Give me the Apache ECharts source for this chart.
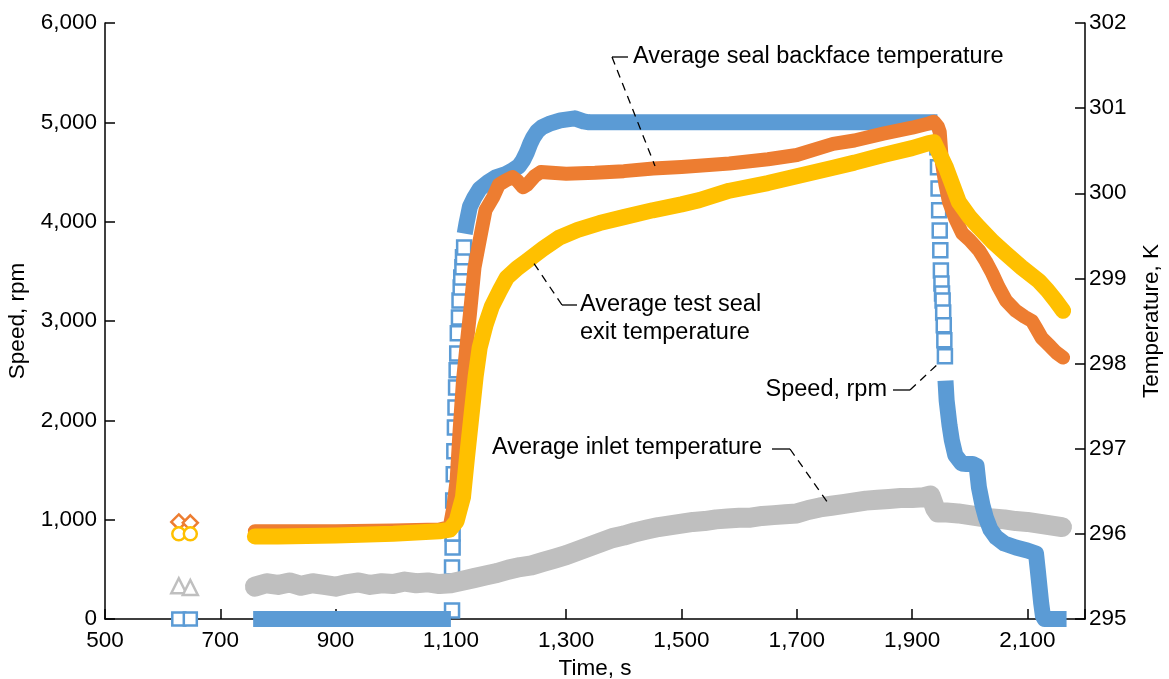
<!DOCTYPE html>
<html>
<head>
<meta charset="utf-8">
<script src="https://cdn.jsdelivr.net/npm/echarts@6/dist/echarts.min.js"></script>
<style>
  html, body { margin: 0; padding: 0; background: #fff; }
  #chart { width: 1169px; height: 679px; }
</style>
</head>
<body>
<div id="chart"></div>
<script>
// ---- data ----
// speed, rpm (thick band part; null = break where single markers are drawn)
const speedTime = [757, 1100, 1101, 1124, 1127, 1133, 1141, 1150, 1165, 1178, 1195, 1207, 1218, 1225, 1232, 1238, 1243, 1250, 1258, 1273, 1290, 1315, 1330, 1340, 1944, 1950, 1958, 1960, 1965, 1969, 1975, 1986, 1995, 2005, 2012, 2016, 2022, 2028, 2036, 2046, 2060, 2080, 2100, 2115, 2118, 2121, 2124, 2127, 2130, 2168];
const speedRpm = [0, 0, null, 3880, 3980, 4150, 4245, 4330, 4400, 4447, 4480, 4516, 4560, 4617, 4700, 4790, 4849, 4910, 4950, 4990, 5020, 5040, 5010, 5000, 5000, null, 2400, 2200, 1950, 1800, 1650, 1566, 1560, 1560, 1540, 1325, 1150, 1022, 900, 821, 760, 720, 690, 660, 500, 330, 160, 30, 0, 0];
// speed samples on the fast ramps (individual squares)
const rampTime = [1102, 1102, 1103, 1103, 1104, 1105, 1106, 1107, 1108, 1109, 1110, 1111, 1112, 1114, 1115, 1117, 1118, 1120, 1121, 1123, 1944, 1945, 1946, 1947, 1948, 1949, 1950, 1951, 1952, 1953, 1954, 1955, 1956, 1957];
const rampRpm = [86, 519, 720, 861, 1193, 1458, 1690, 1928, 2130, 2331, 2503, 2674, 2876, 3036, 3207, 3338, 3439, 3540, 3641, 3741, 4750, 4547, 4335, 4114, 3912, 3711, 3509, 3378, 3277, 3207, 3086, 2956, 2805, 2644];

// average seal backface temperature, K
const backfaceTime = [760, 800, 900, 1000, 1080, 1098, 1104, 1110, 1115, 1121, 1127, 1133, 1141, 1150, 1160, 1173, 1183, 1195, 1207, 1215, 1225, 1232, 1245, 1256, 1275, 1300, 1350, 1400, 1451, 1500, 1583, 1650, 1700, 1763, 1800, 1850, 1900, 1929, 1938, 1945, 1948, 1952, 1958, 1964, 1975, 1987, 2000, 2016, 2028, 2039, 2050, 2063, 2080, 2095, 2108, 2115, 2125, 2140, 2150, 2162];
const backfaceK = [296.03, 296.03, 296.03, 296.04, 296.05, 296.08, 296.3, 296.63, 297.2, 297.8, 298.2, 298.58, 299.13, 299.45, 299.8, 299.95, 300.1, 300.15, 300.19, 300.15, 300.07, 300.1, 300.2, 300.25, 300.24, 300.23, 300.24, 300.26, 300.29, 300.31, 300.35, 300.4, 300.45, 300.58, 300.62, 300.7, 300.77, 300.82, 300.84, 300.78, 300.72, 300.35, 300.1, 299.9, 299.7, 299.53, 299.45, 299.33, 299.2, 299.06, 298.9, 298.74, 298.62, 298.55, 298.5, 298.42, 298.3, 298.2, 298.13, 298.07];

// average test seal exit temperature, K
const exitTime = [760, 800, 900, 1000, 1080, 1098, 1110, 1115, 1121, 1128, 1136, 1143, 1150, 1160, 1171, 1185, 1197, 1215, 1231, 1260, 1288, 1320, 1358, 1400, 1450, 1500, 1531, 1583, 1650, 1700, 1763, 1800, 1850, 1900, 1929, 1938, 1945, 1952, 1959, 1970, 1981, 2000, 2016, 2040, 2063, 2090, 2120, 2135, 2149, 2162];
const exitK = [295.97, 295.97, 295.98, 296.0, 296.03, 296.05, 296.15, 296.28, 296.43, 296.9, 297.41, 297.85, 298.19, 298.45, 298.67, 298.86, 299.01, 299.12, 299.2, 299.35, 299.48, 299.57, 299.65, 299.72, 299.8, 299.87, 299.92, 300.03, 300.12, 300.2, 300.3, 300.36, 300.45, 300.53, 300.59, 300.6, 300.5, 300.4, 300.3, 300.1, 299.9, 299.72, 299.6, 299.43, 299.29, 299.13, 298.97, 298.86, 298.74, 298.62];

// average inlet temperature, K
const inletTime = [760, 780, 800, 820, 840, 860, 880, 900, 920, 940, 960, 980, 1000, 1020, 1040, 1060, 1080, 1100, 1120, 1140, 1160, 1180, 1200, 1220, 1240, 1260, 1280, 1300, 1320, 1340, 1360, 1380, 1400, 1420, 1440, 1460, 1480, 1500, 1520, 1540, 1560, 1580, 1600, 1620, 1640, 1660, 1680, 1700, 1720, 1740, 1760, 1780, 1800, 1820, 1840, 1860, 1880, 1900, 1920, 1932, 1940, 1945, 1960, 1980, 2000, 2020, 2040, 2060, 2080, 2100, 2120, 2140, 2160];
const inletK = [295.38, 295.42, 295.4, 295.43, 295.39, 295.42, 295.4, 295.38, 295.41, 295.43, 295.4, 295.42, 295.41, 295.44, 295.42, 295.43, 295.41, 295.42, 295.45, 295.48, 295.51, 295.54, 295.58, 295.61, 295.63, 295.67, 295.71, 295.75, 295.8, 295.85, 295.9, 295.95, 295.98, 296.02, 296.05, 296.08, 296.1, 296.12, 296.14, 296.15, 296.17, 296.18, 296.19, 296.19, 296.21, 296.22, 296.23, 296.24, 296.28, 296.31, 296.33, 296.35, 296.37, 296.39, 296.4, 296.41, 296.42, 296.42, 296.43, 296.45, 296.3, 296.25, 296.25, 296.24, 296.22, 296.2, 296.18, 296.17, 296.15, 296.14, 296.12, 296.1, 296.08];

// the two early, isolated readings
const earlyTime = [628, 648];
const earlySpeed = [0, 0];
const earlyBackface = [296.14, 296.13];
const earlyExit = [296.0, 296.0];
const earlyInlet = [295.39, 295.37];

// axis ticks
const timeMin = 500, timeMax = 2200, timeStep = 200;
const rpmMin = 0, rpmMax = 6000, rpmStep = 1000;
const kMin = 295, kMax = 302, kStep = 1;

// ---- chart ----
const BLUE = "#5B9BD5";
const ORANGE = "#ED7D31";
const YELLOW = "#FFC000";
const GRAY = "#BFBFBF";
const FONT = '"Liberation Sans", Arial, sans-serif';

const pairs = (xs, ys) => xs.map((x, i) => [x, ys[i] === null ? "-" : ys[i]]);
const comma = (v) => String(v).replace(/\B(?=(\d{3})+(?!\d))/g, ",");

const axisCommon = {
  axisLine: { show: true, lineStyle: { color: "#000", width: 1.5 } },
  axisTick: { show: true, inside: true, length: 10, lineStyle: { color: "#000", width: 1.5 } },
  splitLine: { show: false },
  nameTextStyle: { color: "#000", fontSize: 22.5, fontFamily: FONT },
};
const labelCommon = { color: "#000", fontSize: 22.5, fontFamily: FONT };

const bandLine = (name, xs, ys, color, width, yIdx, cap) => ({
  name: name,
  type: "line",
  yAxisIndex: yIdx,
  data: pairs(xs, ys),
  showSymbol: false,
  symbol: "none",
  clip: false,
  connectNulls: false,
  animation: false,
  lineStyle: { color: color, width: width, cap: cap, join: "round" },
  itemStyle: { color: color },
});

const hollow = (name, symbol, xs, ys, color, size, yIdx) => ({
  name: name,
  type: "scatter",
  yAxisIndex: yIdx,
  data: pairs(xs, ys),
  symbol: symbol,
  symbolSize: size,
  clip: false,
  animation: false,
  itemStyle: { color: "#fff", borderColor: color, borderWidth: 2.5, opacity: 1 },
});

const chart = echarts.init(document.getElementById("chart"), null, { renderer: "canvas" });

const dash = [8, 6];
const leader = (x1, y1, x2, y2, dashed) => ({
  type: "line",
  shape: { x1: x1, y1: y1, x2: x2, y2: y2 },
  style: { stroke: "#000", lineWidth: 1.3, lineDash: dashed ? dash : null },
  z: 100,
});
const note = (x, y, text, align) => ({
  type: "text",
  x: x,
  y: y,
  z: 100,
  style: {
    text: text,
    fill: "#000",
    font: "23.5px " + FONT,
    align: align || "left",
    verticalAlign: "middle",
  },
});

chart.setOption({
  animation: false,
  backgroundColor: "#fff",
  grid: { left: 105, right: 84, top: 23, bottom: 60, outerBoundsMode: "none", containLabel: false },
  xAxis: Object.assign({}, axisCommon, {
    type: "value",
    min: timeMin,
    max: timeMax,
    interval: timeStep,
    name: "Time, s",
    nameLocation: "middle",
    nameGap: 30,
    axisLabel: Object.assign({}, labelCommon, {
      margin: 10,
      formatter: (v) => (v === timeMax ? "" : comma(v)),
    }),
  }),
  yAxis: [
    Object.assign({}, axisCommon, {
      type: "value",
      min: rpmMin,
      max: rpmMax,
      interval: rpmStep,
      name: "Speed, rpm",
      nameLocation: "middle",
      nameGap: 74,
      nameRotate: 90,
      axisLabel: Object.assign({}, labelCommon, { margin: 8, formatter: comma }),
    }),
    Object.assign({}, axisCommon, {
      type: "value",
      position: "right",
      min: kMin,
      max: kMax,
      interval: kStep,
      name: "Temperature, K",
      nameLocation: "middle",
      nameGap: 55,
      nameRotate: 90,
      axisLabel: Object.assign({}, labelCommon, { margin: 4 }),
    }),
  ],
  series: [
    bandLine("Average inlet temperature", inletTime, inletK, GRAY, 20, 1, "round"),
    bandLine("Speed, rpm", speedTime, speedRpm, BLUE, 16, 0, "butt"),
    hollow("Speed ramps", "rect", rampTime, rampRpm, BLUE, 14, 0),
    bandLine("Average seal backface temperature", backfaceTime, backfaceK, ORANGE, 14, 1, "round"),
    bandLine("Average test seal exit temperature", exitTime, exitK, YELLOW, 16, 1, "round"),
    hollow("early speed", "rect", earlyTime, earlySpeed, BLUE, 13, 0),
    hollow("early backface", "diamond", earlyTime, earlyBackface, ORANGE, 15, 1),
    hollow("early exit", "circle", earlyTime, earlyExit, YELLOW, 13, 1),
    hollow("early inlet", "triangle", earlyTime, earlyInlet, GRAY, 15, 1),
  ],
  graphic: [
    note(633, 57, "Average seal backface temperature"),
    leader(612, 57, 628, 57, false),
    leader(612, 57, 655, 166, true),

    note(580, 305, "Average test seal"),
    note(580, 333, "exit temperature"),
    leader(562, 305, 577, 305, false),
    leader(562, 305, 531, 259, true),

    note(887, 390, "Speed, rpm", "right"),
    leader(893, 390, 910, 390, false),
    leader(910, 390, 940, 362, true),

    note(492, 448, "Average inlet temperature"),
    leader(772, 449, 790, 449, false),
    leader(790, 449, 828, 503, true),
  ],
});
</script>
</body>
</html>
